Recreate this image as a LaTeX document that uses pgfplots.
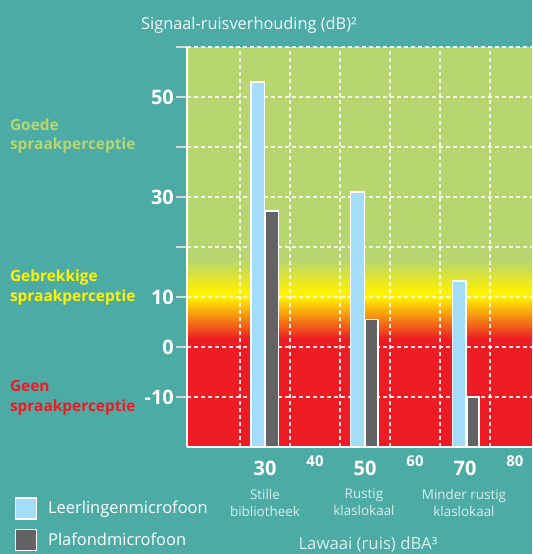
\documentclass[border=0pt]{standalone}
\usepackage{pgfplots}
\pgfplotsset{compat=1.18}
\usepackage{fontspec}
\setmainfont{Open Sans}
\definecolor{bgteal}{RGB}{77,171,166}
\definecolor{zgreen}{RGB}{184,214,112}
\definecolor{zyellow}{RGB}{255,241,0}
\definecolor{zorange}{RGB}{247,148,29}
\definecolor{zred}{RGB}{237,28,36}
\definecolor{lblue}{RGB}{164,221,247}
\definecolor{dgray}{RGB}{99,99,101}
\definecolor{ltext}{RGB}{216,238,236}
\definecolor{tgray}{RGB}{215,215,215}
\begin{document}
\begin{tikzpicture}
\fill[bgteal] (0,0) rectangle (532bp,554bp);
% plot-area background bands (value v -> 107bp + 5bp*(v+20))
\fill[zgreen] (187bp,507bp) rectangle (532bp,294bp);
\shade[top color=zgreen, bottom color=zyellow] (187bp,294.5bp) rectangle (532bp,262bp);
\fill[zyellow] (187bp,262.3bp) rectangle (532bp,256.7bp);
\shade[top color=zyellow, middle color=zorange, bottom color=zred] (187bp,257bp) rectangle (532bp,215bp);
\fill[zred] (187bp,215.3bp) rectangle (532bp,107bp);
\begin{axis}[
  at={(187bp,107bp)}, anchor=south west,
  scale only axis, width=345bp, height=400bp,
  xmin=14.4, xmax=83.4, ymin=-20, ymax=60,
  clip=false,
  axis x line*=bottom, axis y line*=left,
  axis line style={white, line width=1.6bp, -},
  ytick={-10,0,10,20,30,40,50,60},
  yticklabels={-10,0,10,,30,,50,},
  ymajorgrids,
  grid style={white, opacity=0.85, dash pattern=on 4bp off 3bp, line width=1.1bp},
  ytick style={draw=tgray, line width=1.2bp},
  tick align=outside, major tick length=11bp,
  yticklabel style={font=\bfseries\fontsize{20}{20}\selectfont, text=white, inner xsep=2bp},
  xtick={30,50,70}, xticklabels={30,50,70},
  xtick style={draw=none},
  xticklabel style={font=\bfseries\fontsize{20}{20}\selectfont, text=white},
  minor xtick={25,35,45,55,65,75},
  xminorgrids,
  minor tick length=0pt,
  extra x ticks={40,60,80}, extra x tick labels={40,60,80},
  extra x tick style={xticklabel style={font=\bfseries\fontsize{15}{15}\selectfont, yshift=6bp}},
  legend style={at={(axis description cs:-0.5,-0.125)}, anchor=north west, draw=none, fill=none,
    font=\fontsize{16.5}{18}\selectfont, text=white, row sep=9bp, column sep=9bp, inner sep=0pt, overlay},
  legend cell align=left,
  legend image code/.code={\draw[#1] (0bp,-10.5bp) rectangle (21bp,10.5bp);},
]
\addlegendimage{fill=lblue, draw=white, line width=1.5bp}
\addlegendentry{Leerlingenmicrofoon}
\addlegendimage{fill=dgray, draw=white, line width=1.5bp}
\addlegendentry{Plafondmicrofoon}

% Leerlingenmicrofoon
\addplot[fill=lblue, draw=white, line width=1.2bp, forget plot] coordinates {(27.2,-20) (27.2,53) (29.9,53) (29.9,-20)} -- cycle;
\addplot[fill=lblue, draw=white, line width=1.2bp, forget plot] coordinates {(47.15,-20) (47.15,31) (49.85,31) (49.85,-20)} -- cycle;
\addplot[fill=lblue, draw=white, line width=1.2bp, forget plot] coordinates {(67.55,-20) (67.55,13.2) (70.2,13.2) (70.2,-20)} -- cycle;
% Plafondmicrofoon
\addplot[fill=dgray, draw=white, line width=1.2bp, forget plot] coordinates {(30.1,-20) (30.1,27.2) (32.7,27.2) (32.7,-20)} -- cycle;
\addplot[fill=dgray, draw=white, line width=1.2bp, forget plot] coordinates {(50.05,-20) (50.05,5.5) (52.6,5.5) (52.6,-20)} -- cycle;
\addplot[fill=dgray, draw=white, line width=1.2bp, forget plot] coordinates {(70.4,-20) (70.4,-10) (72.8,-10) (72.8,-20)} -- cycle;

\node[font=\fontsize{16.4}{18}\selectfont, text=white!92!bgteal] at (axis cs:26.8,64.4) {Signaal-ruisverhouding (dB)²};
\node[font=\bfseries\fontsize{15.5}{20}\selectfont, text=zgreen, align=left, anchor=west] at (axis cs:-21.7,42.2) {Goede\\spraakperceptie};
\node[font=\bfseries\fontsize{15.5}{20}\selectfont, text=zyellow, align=left, anchor=west] at (axis cs:-21.7,11.9) {Gebrekkige\\spraakperceptie};
\node[font=\bfseries\fontsize{15.5}{20}\selectfont, text=zred, align=left, anchor=west] at (axis cs:-21.7,-10.1) {Geen\\spraakperceptie};
\node[font=\fontsize{13.5}{17}\selectfont, text=ltext, align=center] at (axis cs:30,-31.1) {Stille\\bibliotheek};
\node[font=\fontsize{13.5}{17}\selectfont, text=ltext, align=center] at (axis cs:49.8,-31.1) {Rustig\\klaslokaal};
\node[font=\fontsize{13.5}{17}\selectfont, text=ltext, align=center] at (axis cs:69.8,-31.1) {Minder rustig\\klaslokaal};
\node[font=\fontsize{16.8}{18}\selectfont, text=ltext, inner sep=0pt, overlay] at (axis cs:50.6,-39.4) {Lawaai (ruis) dBA³};
\end{axis}
\end{tikzpicture}
\end{document}
